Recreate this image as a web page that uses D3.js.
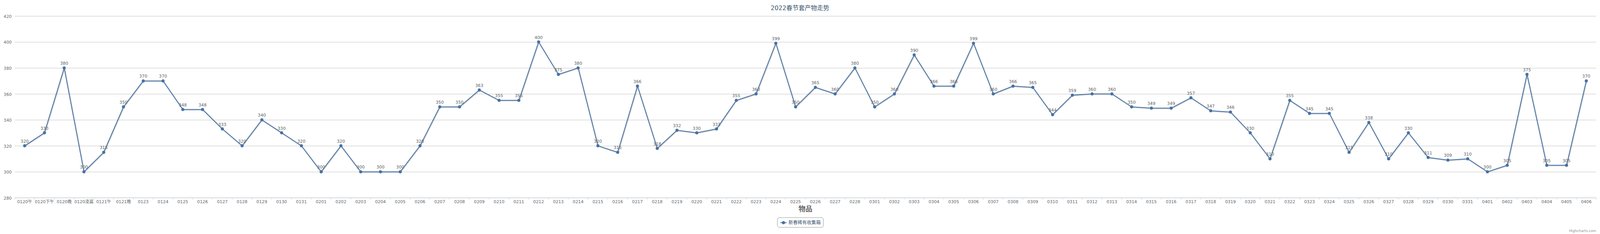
<!DOCTYPE html>
<meta charset="utf-8">
<style>
  html, body { margin: 0; padding: 0; background: #fff; overflow: hidden; }
  #my_dataviz { width: 100vw; height: 100vh; }
  svg { display: block; }
  text { font-family: "DejaVu Sans", "Noto Sans CJK SC", sans-serif; }
</style>

<!-- Load d3.js -->
<script src="https://d3js.org/d3.v7.min.js"></script>

<div id="my_dataviz"></div>
<script>

// categories (x axis) and the one series
var categories = ["0120午","0120下午","0120晚","0120凌晨","0121午","0121晚",
  "0123","0124","0125","0126","0127","0128","0129","0130","0131",
  "0201","0202","0203","0204","0205","0206","0207","0208","0209","0210",
  "0211","0212","0213","0214","0215","0216","0217","0218","0219","0220",
  "0221","0222","0223","0224","0225","0226","0227","0228",
  "0301","0302","0303","0304","0305","0306","0307","0308","0309","0310",
  "0311","0312","0313","0314","0315","0316","0317","0318","0319","0320",
  "0321","0322","0323","0324","0325","0326","0327","0328","0329","0330","0331",
  "0401","0402","0403","0404","0405","0406"];

var values = [320,330,380,300,315,350,
  370,370,348,348,333,320,340,330,320,
  300,320,300,300,300,320,350,350,363,355,
  355,400,375,380,320,315,366,318,332,330,
  333,355,360,399,350,365,360,380,
  350,360,390,366,366,399,360,366,365,344,
  359,360,360,350,349,349,357,347,346,330,
  310,355,345,345,315,338,310,330,311,309,310,
  300,305,375,305,305,370];

var yTicks = [280,300,320,340,360,380,400,420];
var seriesName = "新春稀有收集箱";
var chartTitle = "2022春节套产物走势";
var xTitle = "物品";

var W = 4172, H = 600;
var margin = {top: 41, right: 10, bottom: 93, left: 38.5};
var plotW = W - margin.left - margin.right,
    plotH = H - margin.top - margin.bottom;

// fixed drawing size, scaled to whatever the window really is
var svg = d3.select("#my_dataviz")
  .append("svg")
    .attr("width", "100%")
    .attr("height", "100%")
    .attr("viewBox", "0 0 " + W + " " + H)
    .attr("preserveAspectRatio", "none");

var g = svg.append("g")
    .attr("transform", "translate(" + margin.left + "," + margin.top + ")");

var x = d3.scaleBand()
  .domain(categories)
  .range([0, plotW])
  .padding(0);

var y = d3.scaleLinear()
  .domain([280, 420])
  .range([plotH, 0]);

// title
svg.append("text")
  .attr("x", W / 2)
  .attr("y", 26)
  .attr("text-anchor", "middle")
  .style("font-size", "16px")
  .style("fill", "#3E576F")
  .text(chartTitle);

// grid lines + y labels
var yAxis = g.append("g")
  .call(d3.axisLeft(y).tickValues(yTicks).tickSize(-plotW).tickPadding(8));
yAxis.select(".domain").remove();
yAxis.selectAll(".tick line").attr("stroke", "#C0C0C0").attr("stroke-width", 1);
yAxis.selectAll(".tick text")
  .style("font-size", "11px").style("fill", "#666")
  .attr("dy", "0.4em");

// x axis: ticks between categories
var xAxis = g.append("g")
  .attr("transform", "translate(0," + plotH + ")");
xAxis.append("line")
  .attr("x1", 0).attr("x2", plotW)
  .attr("stroke", "#C0D0E0");
xAxis.selectAll(".xt")
  .data(categories.concat(["__end"]))
  .enter().append("line")
    .attr("x1", function(d, i) { return i * x.bandwidth(); })
    .attr("x2", function(d, i) { return i * x.bandwidth(); })
    .attr("y1", 0).attr("y2", 5)
    .attr("stroke", "#C0D0E0");
xAxis.selectAll(".xl")
  .data(categories)
  .enter().append("text")
    .attr("x", function(d) { return x(d) + x.bandwidth() / 2; })
    .attr("y", 14)
    .attr("text-anchor", "middle")
    .style("font-size", "11px")
    .style("fill", "#666")
    .text(function(d) { return d; });

// x axis title
svg.append("text")
  .attr("x", margin.left + plotW / 2)
  .attr("y", 542)
  .attr("text-anchor", "middle")
  .style("font-size", "18px")
  .style("font-weight", "bold")
  .style("fill", "#666")
  .text(xTitle);

var data = categories.map(function(c, i) { return {cat: c, value: values[i]}; });

var line = d3.line()
  .x(function(d) { return x(d.cat) + x.bandwidth() / 2; })
  .y(function(d) { return y(d.value); });

// soft shadow under the line
[[5, 0.05], [3, 0.1], [1, 0.15]].forEach(function(s) {
  g.append("path")
    .datum(data)
    .attr("fill", "none")
    .attr("stroke", "#000")
    .attr("stroke-opacity", s[1])
    .attr("stroke-width", s[0])
    .attr("stroke-linejoin", "round")
    .attr("transform", "translate(1,1)")
    .attr("d", line);
});

g.append("path")
  .datum(data)
  .attr("fill", "none")
  .attr("stroke", "#4572A7")
  .attr("stroke-width", 2)
  .attr("stroke-linejoin", "round")
  .attr("d", line);

g.selectAll(".dot")
  .data(data)
  .enter().append("circle")
    .attr("cx", function(d) { return x(d.cat) + x.bandwidth() / 2; })
    .attr("cy", function(d) { return y(d.value); })
    .attr("r", 4)
    .attr("fill", "#4572A7");

g.selectAll(".lbl")
  .data(data)
  .enter().append("text")
    .attr("x", function(d) { return x(d.cat) + x.bandwidth() / 2; })
    .attr("y", function(d) { return y(d.value) - 8; })
    .attr("text-anchor", "middle")
    .style("font-size", "11px")
    .style("fill", "#606060")
    .text(function(d) { return d.value; });

// legend
var lg = svg.append("g").attr("transform", "translate(2027,558)");
lg.append("rect")
  .attr("width", 120).attr("height", 25)
  .attr("rx", 5).attr("ry", 5)
  .attr("fill", "#fff")
  .attr("stroke", "#909090");
lg.append("line")
  .attr("x1", 8).attr("x2", 24).attr("y1", 13).attr("y2", 13)
  .attr("stroke", "#4572A7").attr("stroke-width", 2);
lg.append("circle")
  .attr("cx", 16).attr("cy", 13).attr("r", 4)
  .attr("fill", "#4572A7");
lg.append("text")
  .attr("x", 29).attr("y", 17)
  .style("font-size", "12px")
  .style("fill", "#3E576F")
  .text(seriesName);

// credits
svg.append("text")
  .attr("x", W - 10)
  .attr("y", 595)
  .attr("text-anchor", "end")
  .style("font-size", "9px")
  .style("fill", "#909090")
  .text("Highcharts.com");

</script>
